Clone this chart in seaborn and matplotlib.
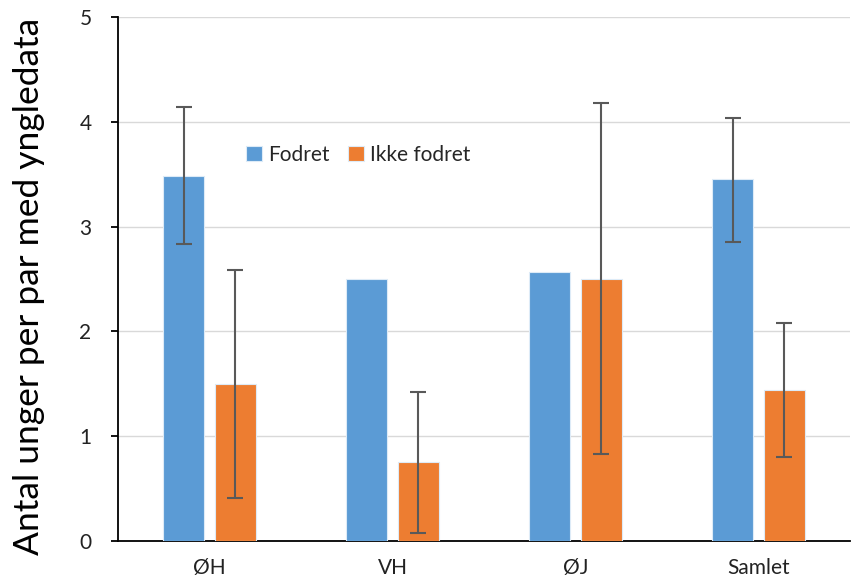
import matplotlib
matplotlib.use("Agg")
import matplotlib.pyplot as plt
import seaborn as sns
import pandas as pd
import numpy as np

categories = ["ØH", "VH", "ØJ", "Samlet"]
groups = ["Fodret", "Ikke fodret"]
fodret = [3.48, 2.50, 2.57, 3.45]
ikke_fodret = [1.50, 0.75, 2.50, 1.44]
fodret_low = [2.83, np.nan, np.nan, 2.85]
fodret_high = [4.14, np.nan, np.nan, 4.04]
ikke_low = [0.41, 0.08, 0.83, 0.80]
ikke_high = [2.59, 1.42, 4.18, 2.08]
yticks = [0, 1, 2, 3, 4, 5]

df = pd.DataFrame({
    "kategori": categories * 2,
    "gruppe": [groups[0]] * 4 + [groups[1]] * 4,
    "værdi": fodret + ikke_fodret,
})

sns.set_theme(style="white")
plt.rcParams["font.family"] = ["Lato", "DejaVu Sans"]

fig = plt.figure(figsize=(8.51, 5.84), dpi=100)
ax = fig.add_axes([118 / 851, 1 - 541 / 584, 732 / 851, 524 / 584])

palette = {"Fodret": "#5B9BD5", "Ikke fodret": "#ED7D31"}
sns.barplot(data=df, x="kategori", y="værdi", hue="gruppe", order=categories,
            hue_order=groups, palette=palette, width=0.56, gap=0.2,
            errorbar=None, saturation=1, ax=ax, edgecolor="#DDEBF7", linewidth=0.8,
            zorder=3)

lows = [fodret_low, ikke_low]
highs = [fodret_high, ikke_high]
vals = [fodret, ikke_fodret]
for cont, lo, hi, v in zip(ax.containers, lows, highs, vals):
    for bar, l, h, val in zip(cont, lo, hi, v):
        if np.isnan(l):
            continue
        xc = bar.get_x() + bar.get_width() / 2
        ax.errorbar([xc], [val], yerr=[[val - l], [h - val]], fmt="none",
                    ecolor="#595959", elinewidth=1.5, capsize=6, capthick=1.5,
                    zorder=4)

ax.set_xlim(-0.5, 3.5)
ax.set_ylim(0, 5)
ax.set_yticks(yticks)
ax.yaxis.grid(True, color="#D9D9D9", linewidth=1, zorder=0)
ax.set_axisbelow(True)
for s in ["top", "right"]:
    ax.spines[s].set_visible(False)
ax.spines["left"].set_color("black")
ax.spines["bottom"].set_color("black")
ax.spines["left"].set_linewidth(1.3)
ax.spines["bottom"].set_linewidth(1.3)
ax.tick_params(axis="y", which="major", left=True, length=5, width=1.3,
               color="black", labelsize=15, pad=14, labelcolor="#222222")
ax.tick_params(axis="x", bottom=False, labelsize=15, pad=6, labelcolor="#222222")
ax.set_xlabel("")
ax.set_ylabel("Antal unger per par med yngledata", fontsize=25.5, color="black")
ax.yaxis.set_label_coords(-0.10, 0.485)

ax.legend(loc="center left", bbox_to_anchor=(0.161, 0.737), ncol=2, frameon=False,
          fontsize=15, handlelength=0.75, handleheight=0.75, handletextpad=0.3,
          columnspacing=0.9, borderpad=0)

fig.savefig("out.png", dpi=100)
